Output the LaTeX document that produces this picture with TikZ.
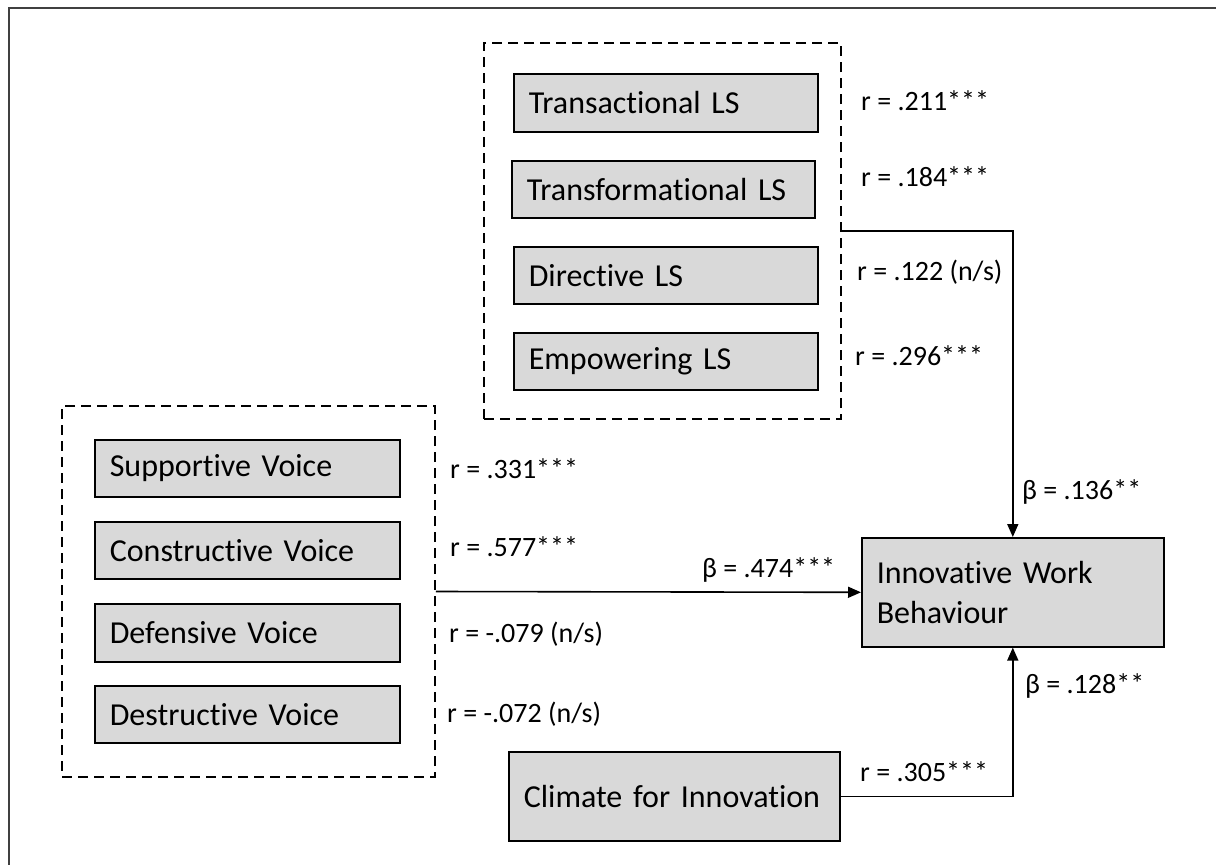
\documentclass[tikz,border=0pt]{standalone}
\usepackage{fontspec}
\setmainfont[Ligatures=NoCommon]{Carlito}
\usetikzlibrary{arrows.meta}
\definecolor{boxgray}{HTML}{D9D9D9}
\definecolor{framegray}{HTML}{404040}
\tikzset{
  var/.style={draw=black, fill=boxgray, line width=1.6pt, anchor=north west,
    inner xsep=15pt, inner ysep=0pt, align=left,
    font=\fontsize{32}{40}\selectfont},
  group/.style={draw=black, line width=1.6pt, dash pattern=on 10pt off 6pt},
  coef/.style={anchor=base west, inner sep=0pt, font=\fontsize{28}{34}\selectfont},
  path/.style={draw=black, line width=1.6pt, -{Triangle[length=13pt,width=11pt]}},
}
\newcommand{\varbox}[6]{% name, x0, y0, x1, y1, text
  \pgfmathsetmacro{\bw}{#4-#2}\pgfmathsetmacro{\bh}{#5-#3}\pgfmathsetmacro{\tw}{#4-#2-30}
  \node[var, minimum width=\bw pt, minimum height=\bh pt, text width=\tw pt] (#1) at (#2,#3) {#6};}
\begin{document}
\begin{tikzpicture}[x=1pt, y=-1pt]
  \useasboundingbox (0,0) rectangle (1216,865);
  % page frame
  \draw[framegray, line width=2pt] (9,865) -- (9,8) -- (1216,8);

  % leadership styles
  \node[group, minimum width=357pt, minimum height=376pt] (lsgroup) at (662.5,231) {};
  \varbox{trans}{513}{73}{817}{131}{Transactional LS}
  \varbox{transf}{511}{160}{814}{217}{Transformational LS}
  \varbox{direct}{513}{246}{817}{303}{Directive LS}
  \varbox{empow}{513}{332}{817}{389}{Empowering LS}

  % voice types
  \node[group, minimum width=373pt, minimum height=371pt] (vgroup) at (248.5,591.5) {};
  \varbox{supp}{94}{439}{399}{496}{Supportive Voice}
  \varbox{constr}{94}{521}{399}{578}{Constructive Voice}
  \varbox{defens}{94}{603}{399}{661}{Defensive Voice}
  \varbox{destr}{94}{685}{399}{742}{Destructive Voice}

  % outcome and climate
  \varbox{iwb}{861}{537}{1163}{646}{Innovative Work\\Behaviour}
  \varbox{climate}{508}{751}{839}{840}{Climate for Innovation}

  % paths
  \draw[path] (lsgroup.east) -| (iwb.north);
  \draw[path] (vgroup.east) -- (iwb.west);
  \draw[path] (climate.east) -| (iwb.south);

  % correlations
  \node[coef] (r1) at (861,110) {r = .211***};
  \node[coef] (r2) at (861,186) {r = .184***};
  \node[coef] (r3) at (857,280) {r = .122 (n/s)};
  \node[coef] (r4) at (855,365) {r = .296***};
  \node[coef] (r5) at (450,478) {r = .331***};
  \node[coef] (r6) at (450,556) {r = .577***};
  \node[coef] (r7) at (449,642) {r = -.079 (n/s)};
  \node[coef] (r8) at (447,722) {r = -.072 (n/s)};
  \node[coef] (r9) at (860,781) {r = .305***};

  % path coefficients
  \node[coef] (b1) at (702,577) {β = .474***};
  \node[coef] (b2) at (1022,499) {β = .136**};
  \node[coef] (b3) at (1025,693) {β = .128**};
\end{tikzpicture}
\end{document}
